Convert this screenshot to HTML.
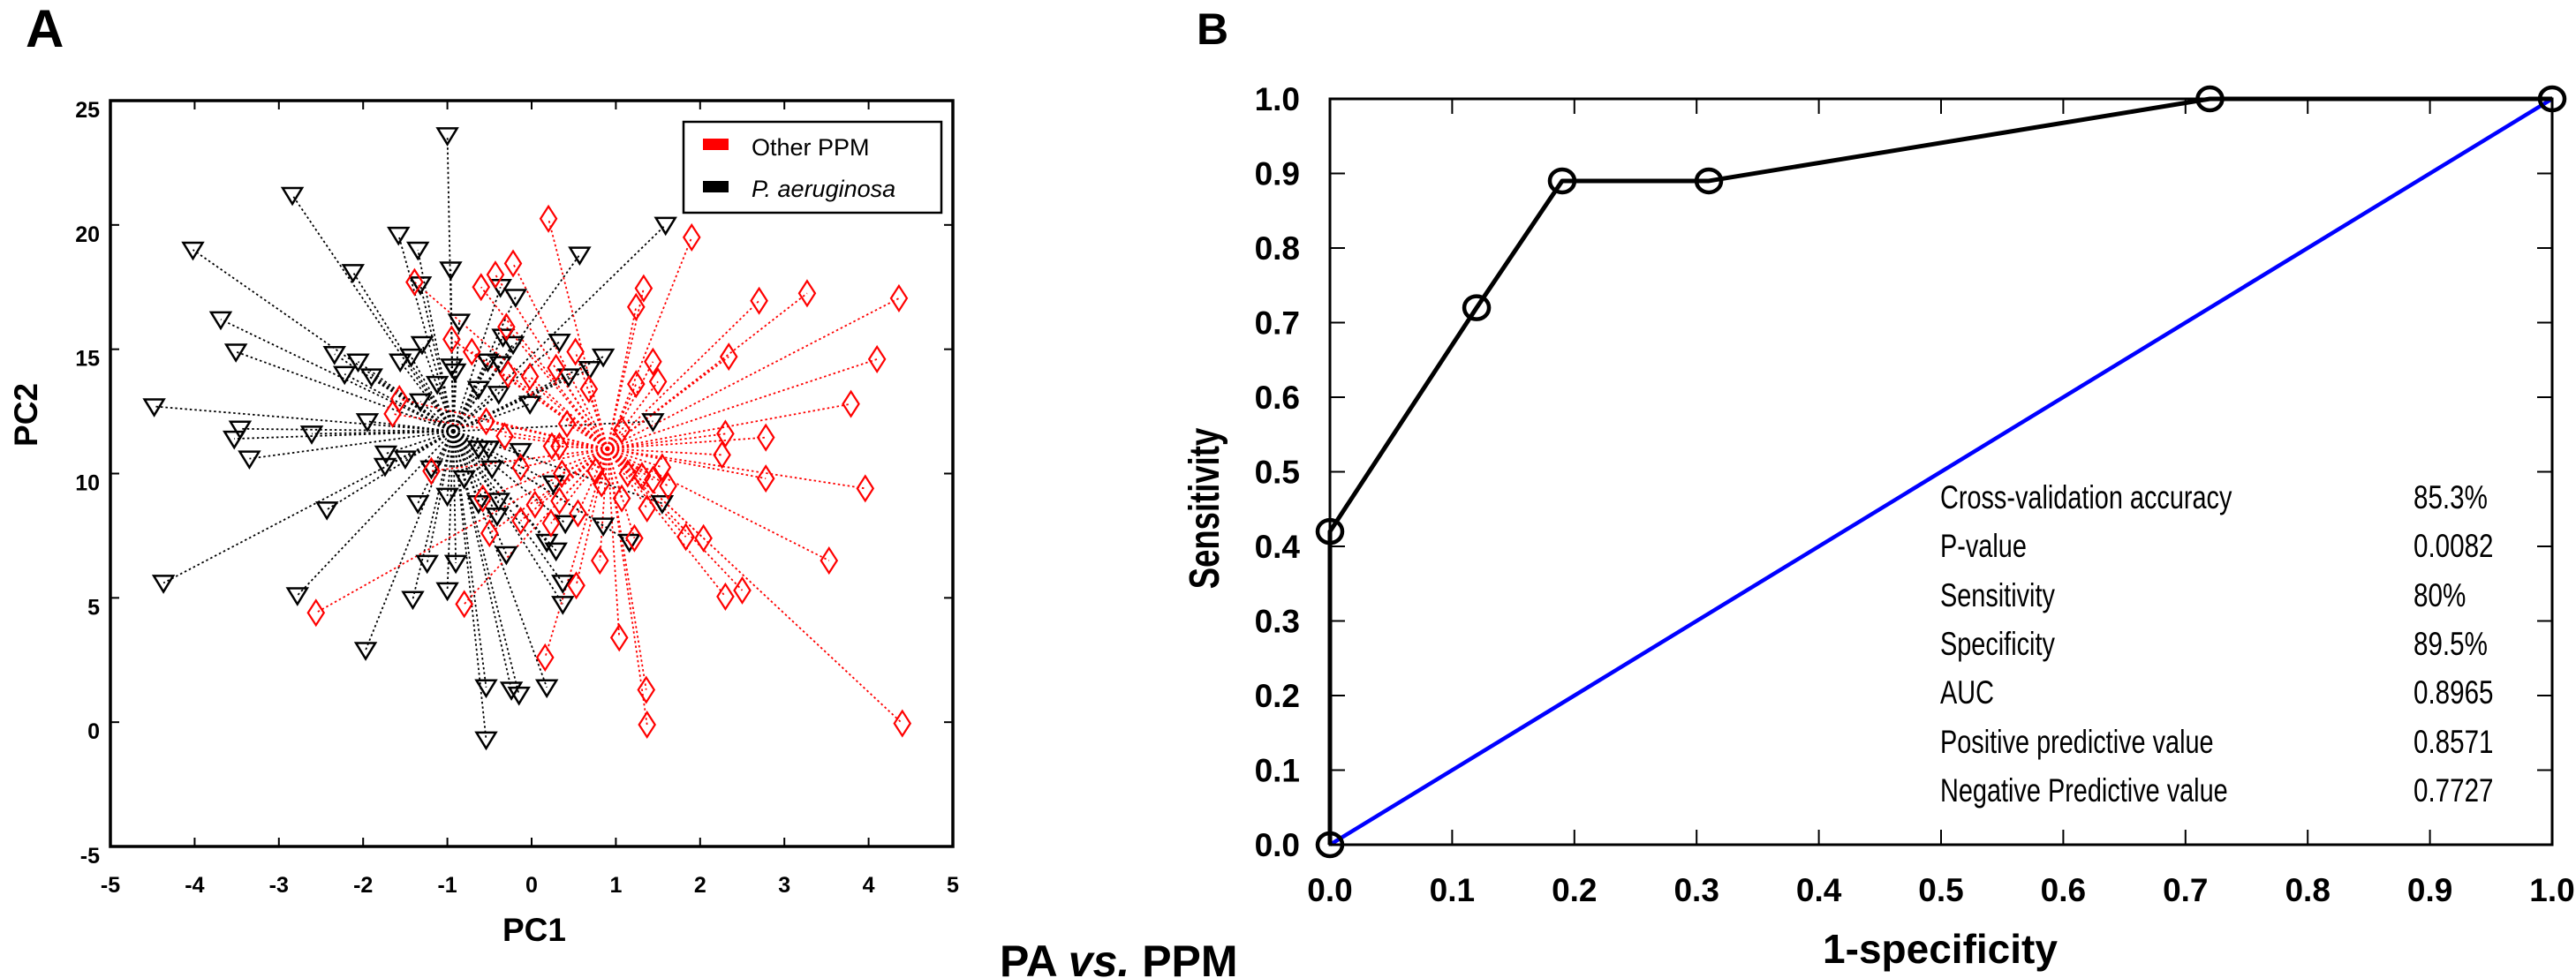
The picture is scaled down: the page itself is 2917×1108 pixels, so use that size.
<!DOCTYPE html>
<html><head><meta charset="utf-8"><style>
html,body{margin:0;padding:0;background:#fff;}
svg{display:block;font-family:"Liberation Sans",Arial,sans-serif;}
</style></head><body>
<svg id="fig" width="2917" height="1108" viewBox="0 0 2917 1108" xmlns="http://www.w3.org/2000/svg">
<text x="29" y="53" font-size="60" font-weight="bold">A</text>
<text x="1355" y="50" font-size="50" font-weight="bold">B</text>
<text x="1132" y="1106" font-size="50" font-weight="bold">PA <tspan font-style="italic">vs.</tspan> PPM</text>
<g id="pa"></g>
<g id="pb"></g>
</svg>
<script>
// ---- Panel A data ----
const paX = [-1.00,-2.84,-4.02,1.59,-1.58,-1.35,-2.12,-0.96,0.57,-1.32,-0.37,-0.19,-3.69,-0.86,-3.51,-2.34,-2.06,-2.22,-1.90,-1.56,-1.30,-1.43,-0.95,-0.91,-0.34,-0.22,-0.52,-0.37,0.33,0.44,0.85,0.69,-4.48,-3.46,-3.53,-3.35,-2.61,-1.95,-1.32,-1.12,-0.63,-0.39,-0.02,1.44,-1.73,-1.74,-1.50,-1.19,-0.63,-0.51,-0.13,-0.47,-0.80,-1.00,0.26,-1.35,-0.63,-0.39,-0.41,-2.43,0.40,0.85,1.16,1.55,0.18,0.29,-0.30,-1.24,-0.90,0.37,0.37,-1.41,-1.00,-2.78,-4.37,-1.97,-0.54,-0.24,-0.15,0.18,-0.54];
const paY = [23.6,21.2,19.0,20.0,19.6,19.0,18.1,18.2,18.8,17.6,17.5,17.1,16.2,16.1,14.9,14.8,14.5,14.0,13.9,14.5,15.2,14.7,14.3,14.1,15.5,15.2,14.5,14.4,15.3,13.9,14.7,14.2,12.7,11.8,11.4,10.6,11.6,12.1,12.9,13.6,13.4,13.2,12.8,12.1,10.8,10.3,10.6,10.2,11.0,11.0,10.9,10.2,9.8,9.1,9.6,8.8,8.8,8.9,8.3,8.55,8.0,7.9,7.25,8.8,7.25,6.9,6.75,6.4,6.4,5.6,4.75,4.95,5.3,5.1,5.6,2.9,1.4,1.3,1.1,1.4,-0.7];
const paCentroid = [-0.93, 11.7];
const ppmX = [0.20,1.90,-0.22,-0.43,-0.60,-1.39,1.33,1.24,2.70,3.27,4.36,-0.95,-0.71,-0.30,0.52,-0.28,-0.02,0.29,0.68,1.24,1.44,1.50,2.34,4.10,3.79,-1.57,-1.65,-0.54,-0.32,0.42,1.07,0.33,0.24,2.30,2.78,2.26,-1.19,-0.13,0.36,0.76,0.83,1.14,1.31,1.44,1.55,1.62,1.07,2.78,3.96,-0.58,0.04,0.33,0.55,1.37,-0.13,-0.50,0.23,0.81,1.22,1.83,2.04,3.53,0.53,2.30,2.50,-0.80,-2.56,0.16,1.04,1.36,1.37,4.40];
const ppmY = [20.25,19.5,18.45,18.0,17.5,17.7,17.45,16.7,16.95,17.25,17.05,15.4,14.9,15.9,14.9,14.0,13.9,14.25,13.4,13.6,14.5,13.7,14.7,14.6,12.8,13.0,12.4,12.1,11.5,12.0,11.75,11.1,11.1,11.6,11.45,10.75,10.1,10.25,10.0,10.1,9.6,10.0,9.9,9.75,10.25,9.5,9.0,9.8,9.4,9.0,8.75,8.9,8.4,8.6,8.1,7.6,8.0,6.5,7.4,7.45,7.4,6.5,5.5,5.05,5.3,4.75,4.4,2.6,3.4,1.3,-0.1,-0.05];
const ppmCentroid = [0.9, 11.0];
const aXTicks = [-5,-4,-3,-2,-1,0,1,2,3,4,5];
const aYTicks = [-5,0,5,10,15,20,25];
// ---- Panel B data ----
const rocX = [0,0,0.12,0.19,0.31,0.72,1];
const rocY = [0,0.42,0.72,0.89,0.89,1,1];
const bTicks = [0,0.1,0.2,0.3,0.4,0.5,0.6,0.7,0.8,0.9,1.0];
const statLabels = ["Cross-validation accuracy","P-value","Sensitivity","Specificity","AUC","Positive predictive value","Negative Predictive value"];
const statValues = ["85.3%","0.0082","80%","89.5%","0.8965","0.8571","0.7727"];

const NS="http://www.w3.org/2000/svg";
function mk(parent,tag,attrs,text){const e=document.createElementNS(NS,tag);for(const k in attrs)e.setAttribute(k,attrs[k]);if(text!==undefined)e.textContent=text;parent.appendChild(e);return e;}
function condense(el,f){const w=el.getComputedTextLength();el.setAttribute('textLength',(w*f).toFixed(1));el.setAttribute('lengthAdjust','spacingAndGlyphs');}

// Panel A
const A=document.getElementById('pa');
const aL=125,aR=1079,aT=114,aB=959;
const ax=v=>aL+(v+5)/10*(aR-aL);
const ay=v=>aB-(v+5)/30*(aB-aT);
function connectors(xs,ys,c,color,name){
  for(let i=0;i<xs.length;i++){
    const l=mk(A,'line',{x1:ax(c[0]),y1:ay(c[1]),x2:ax(xs[i]),y2:ay(ys[i]),stroke:color,'stroke-width':1.8,'stroke-dasharray':'2.5,3'});
    
    
  }
}
connectors(paX,paY,paCentroid,'#000','pa-connector-line');
connectors(ppmX,ppmY,ppmCentroid,'#f00','ppm-connector-line');
for(let i=0;i<paX.length;i++){
  const x=ax(paX[i]),y=ay(paY[i]);
  const p=mk(A,'polygon',{points:`${x-11},${y-8} ${x+11},${y-8} ${x},${y+10}`,fill:'none',stroke:'#000','stroke-width':2.5});
  
  
}
for(let i=0;i<ppmX.length;i++){
  const x=ax(ppmX[i]),y=ay(ppmY[i]);
  const p=mk(A,'polygon',{points:`${x},${y-14} ${x+9},${y} ${x},${y+14} ${x-9},${y}`,fill:'none',stroke:'#f00','stroke-width':2.2});
  
  
}
const boxA=mk(A,'rect',{x:aL,y:aT,width:aR-aL,height:aB-aT,fill:'none',stroke:'#000','stroke-width':3.5});


aXTicks.forEach(v=>{
  mk(A,'line',{x1:ax(v),y1:aB,x2:ax(v),y2:aB-10,stroke:'#000','stroke-width':2});
  mk(A,'line',{x1:ax(v),y1:aT,x2:ax(v),y2:aT+10,stroke:'#000','stroke-width':2});
  const t=mk(A,'text',{x:ax(v),y:1011,'font-size':25,'font-weight':'bold','text-anchor':'middle'},String(v));
  
  
});
aYTicks.forEach(v=>{
  mk(A,'line',{x1:aL,y1:ay(v),x2:aL+10,y2:ay(v),stroke:'#000','stroke-width':2});
  mk(A,'line',{x1:aR,y1:ay(v),x2:aR-10,y2:ay(v),stroke:'#000','stroke-width':2});
  const t=mk(A,'text',{x:113,y:ay(v)+19,'font-size':25,'font-weight':'bold','text-anchor':'end'},String(v));
  
  
});
let t=mk(A,'text',{x:605,y:1066,'font-size':37,'font-weight':'bold','text-anchor':'middle'},'PC1');


t=mk(A,'text',{x:0,y:0,'font-size':37,'font-weight':'bold','text-anchor':'middle',transform:'translate(42,470) rotate(-90)'},'PC2');


const lg=mk(A,'g',{});


mk(lg,'rect',{x:774,y:138,width:292,height:103,fill:'#fff',stroke:'#000','stroke-width':2.5});
let s=mk(lg,'rect',{x:796,y:157,width:29,height:13,fill:'#f00'});


t=mk(lg,'text',{x:851,y:176,'font-size':27},'Other PPM');


s=mk(lg,'rect',{x:796,y:205,width:29,height:13,fill:'#000'});


t=mk(lg,'text',{x:851,y:223,'font-size':27,'font-style':'italic'},'P. aeruginosa');



// Panel B
const B=document.getElementById('pb');
const bL=1506,bR=2890,bT=112,bB=957;
const bx=v=>bL+v*(bR-bL);
const by=v=>bB-v*(bB-bT);
bTicks.forEach(v=>{
  mk(B,'line',{x1:bx(v),y1:bB,x2:bx(v),y2:bB-17,stroke:'#000','stroke-width':2});
  mk(B,'line',{x1:bx(v),y1:bT,x2:bx(v),y2:bT+17,stroke:'#000','stroke-width':2});
  mk(B,'line',{x1:bL,y1:by(v),x2:bL+17,y2:by(v),stroke:'#000','stroke-width':2});
  mk(B,'line',{x1:bR,y1:by(v),x2:bR-17,y2:by(v),stroke:'#000','stroke-width':2});
  let a=mk(B,'text',{x:bx(v),y:1021,'font-size':37,'font-weight':'bold','text-anchor':'middle'},v.toFixed(1));
  
  
  a=mk(B,'text',{x:1472,y:by(v)+13,'font-size':37,'font-weight':'bold','text-anchor':'end'},v.toFixed(1));
  
  
});
const diag=mk(B,'line',{x1:bx(0),y1:by(0),x2:bx(1),y2:by(1),stroke:'#0000ff','stroke-width':4.5});


const roc=mk(B,'polyline',{points:rocX.map((x,i)=>bx(x)+','+by(rocY[i])).join(' '),fill:'none',stroke:'#000','stroke-width':5,'stroke-linejoin':'round'});


rocX.forEach((x,i)=>{
  const c=mk(B,'ellipse',{cx:bx(x),cy:by(rocY[i]),rx:14,ry:13,fill:'none',stroke:'#000','stroke-width':4.5});
  
  
});
const boxB=mk(B,'rect',{x:bL,y:bT,width:bR-bL,height:bB-bT,fill:'none',stroke:'#000','stroke-width':3});


const rowY=[563,618,674,729,784,840,895];
statLabels.forEach((lab,i)=>{
  let a=mk(B,'text',{x:2197,y:rowY[i]+13,'font-size':37},lab);
  
  
  condense(a,0.78);
  a=mk(B,'text',{x:2733,y:rowY[i]+13,'font-size':37},statValues[i]);
  
  
  condense(a,0.8);
});
t=mk(B,'text',{x:2197,y:1091,'font-size':46,'font-weight':'bold','text-anchor':'middle'},'1-specificity');


t=mk(B,'text',{x:0,y:0,'font-size':48,'font-weight':'bold','text-anchor':'middle',transform:'translate(1380,576) rotate(-90)'},'Sensitivity');


condense(t,0.76);
</script>
</body></html>
